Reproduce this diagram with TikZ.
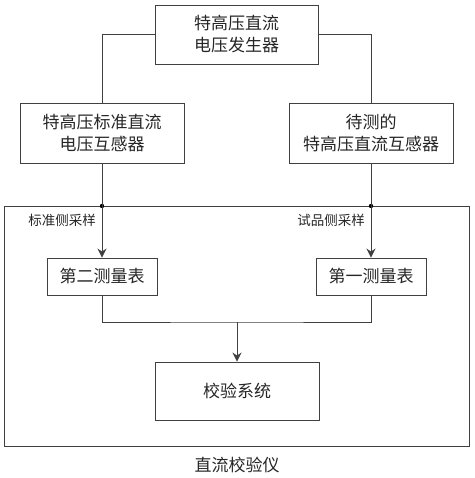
\documentclass[tikz,border=0pt]{standalone}
\usepackage{fontspec}
\newfontfamily\cjk{Noto Sans CJK SC}
\usetikzlibrary{arrows.meta}
\begin{document}
\begin{tikzpicture}[x=1pt,y=-1pt,
  box/.style={draw=black!75,line width=0.9pt,inner sep=0pt,align=center,font=\cjk\fontsize{17}{22}\selectfont,text=black!85},
  conn/.style={draw=black!75,line width=0.9pt},
  arr/.style={conn,-{Stealth[length=9pt,width=9pt,inset=3pt]}},
  lbl/.style={font=\cjk\fontsize{13.5}{16}\selectfont,text=black!85,inner sep=0pt}]
\useasboundingbox (0,0) rectangle (474,478);
\node[box,minimum width=163pt,minimum height=59pt] (gen) at (236.5,34.5) {特高压直流\\电压发生器};
\node[box,minimum width=164pt,minimum height=60pt] (std) at (102,133) {特高压标准直流\\电压互感器};
\node[box,minimum width=164pt,minimum height=60pt] (dut) at (371,133) {待测的\\特高压直流互感器};
\node[draw=black!75,line width=0.9pt,minimum width=465pt,minimum height=240pt,inner sep=0pt] (cal) at (236.5,326) {};
\node[box,minimum width=110pt,minimum height=37pt] (m2) at (102,276.5) {第二测量表};
\node[box,minimum width=110pt,minimum height=37pt] (m1) at (371,276.5) {第一测量表};
\node[box,minimum width=164pt,minimum height=58pt] (sys) at (237,391) {校验系统};
\node[font=\cjk\fontsize{17}{20}\selectfont,text=black!85,inner sep=0pt] (title) at (237,465) {直流校验仪};
\coordinate (dl) at (102,206);
\coordinate (dr) at (371,206);
\coordinate (mg) at (237,322);
\fill[black] (dl) circle (2.2pt) (dr) circle (2.2pt);
\node[lbl] (ll) at (62,220) {标准侧采样};
\node[lbl] (rl) at (331,220) {试品侧采样};
\draw[conn] (gen.west) -| (std.north);
\draw[conn] (gen.east) -| (dut.north);
\draw[conn] (std.south) -- (dl);
\draw[conn] (dut.south) -- (dr);
\draw[arr] (dl) -- (m2.north);
\draw[arr] (dr) -- (m1.north);
\draw[conn] (m2.south) |- (mg) -| (m1.south);
\draw[arr] (mg) -- (sys.north);
\end{tikzpicture}
\end{document}
